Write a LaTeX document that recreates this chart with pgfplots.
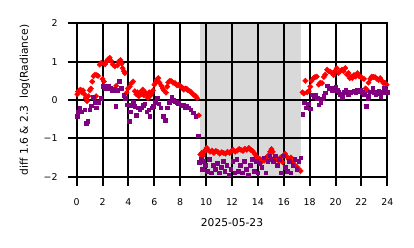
\documentclass[border=0pt]{standalone}
\usepackage{pgfplots}
\pgfplotsset{compat=1.18}
\usepackage{fontspec}
\setmainfont{DejaVu Sans}
\definecolor{mpurple}{RGB}{128,0,128}

\pgfplotstableread{
x y
0.05 0.15
0.1 0.22
0.2 0.25
0.3 0.27
0.4 0.2
0.5 0.25
0.6 0.15
0.7 0.05
0.8 -0.03
0.9 0.1
1.0 0.25
1.1 0.3
1.2 0.48
1.3 0.62
1.4 0.66
1.5 0.1
1.55 0.65
1.65 0.63
1.78 0.92
1.9 0.97
2.0 0.55
2.1 0.48
2.2 0.93
2.3 1.0
2.42 1.06
2.55 1.1
2.65 1.02
2.8 0.92
2.95 0.88
3.05 0.37
3.15 0.9
3.25 1.0
3.38 1.04
3.48 0.95
3.55 0.83
3.65 0.75
3.72 0.7
3.85 0.19
3.95 0.3
4.1 0.35
4.23 0.44
4.36 0.48
4.49 0.23
4.6 0.15
4.7 0.2
4.8 0.1
4.9 0.2
5.0 0.15
5.1 0.27
5.2 0.12
5.3 0.2
5.4 0.15
5.5 0.05
5.6 0.2
5.7 0.12
5.8 0.18
5.9 0.25
6.0 0.4
6.1 0.45
6.17 0.52
6.3 0.57
6.4 0.45
6.55 0.37
6.65 0.3
6.75 0.25
6.9 0.19
7.0 0.35
7.07 0.46
7.2 0.5
7.33 0.49
7.45 0.45
7.6 0.44
7.75 0.38
7.9 0.4
8.0 0.35
8.1 0.34
8.2 0.3
8.28 0.27
8.4 0.3
8.5 0.29
8.6 0.25
8.75 0.23
8.85 0.2
9.0 0.14
9.1 0.12
9.2 0.1
9.3 0.05
9.44 -0.4
9.55 -1.42
9.65 -1.38
9.75 -1.45
9.85 -1.35
9.95 -1.3
10.05 -1.25
10.15 -1.3
10.3 -1.35
10.45 -1.32
10.6 -1.38
10.75 -1.33
10.9 -1.35
11.05 -1.4
11.2 -1.36
11.35 -1.38
11.5 -1.4
11.65 -1.35
11.8 -1.38
11.95 -1.33
12.1 -1.3
12.25 -1.35
12.4 -1.32
12.55 -1.28
12.7 -1.3
12.85 -1.33
13.0 -1.27
13.15 -1.3
13.3 -1.25
13.45 -1.3
13.6 -1.33
13.75 -1.4
13.9 -1.48
14.05 -1.52
14.2 -1.55
14.35 -1.6
14.5 -1.58
14.65 -1.5
14.8 -1.45
14.95 -1.35
15.05 -1.28
15.15 -1.35
15.3 -1.5
15.45 -1.55
15.6 -1.58
15.75 -1.5
15.9 -1.62
16.0 -1.45
16.1 -1.4
16.25 -1.48
16.4 -1.55
16.55 -1.5
16.7 -1.62
16.85 -1.7
17.0 -1.74
17.15 -1.8
17.3 -1.85
17.45 0.2
17.55 0.17
17.67 0.5
17.8 0.2
17.93 0.23
18.05 0.35
18.15 0.5
18.3 0.57
18.42 0.6
18.55 0.61
18.7 0.4
18.82 0.45
18.96 0.44
19.1 0.6
19.2 0.66
19.35 0.79
19.47 0.75
19.6 0.74
19.72 0.7
19.85 0.65
19.95 0.75
20.1 0.83
20.22 0.7
20.35 0.75
20.5 0.79
20.62 0.75
20.75 0.83
20.88 0.66
21.0 0.7
21.1 0.57
21.2 0.6
21.3 0.57
21.42 0.65
21.55 0.61
21.7 0.7
21.82 0.62
21.95 0.6
22.05 0.57
22.2 0.55
22.32 0.3
22.45 0.25
22.55 0.45
22.68 0.55
22.8 0.61
22.92 0.6
23.05 0.6
23.2 0.55
23.33 0.52
23.45 0.57
23.58 0.5
23.7 0.44
23.82 0.45
23.95 0.4
}\reddata

\pgfplotstableread{
x y
0.03 -0.42
0.1 -0.3
0.23 -0.2
0.4 -0.3
0.62 -0.25
0.75 -0.6
0.85 -0.55
1.0 -0.25
1.1 -0.15
1.26 0.08
1.4 -0.05
1.52 -0.2
1.7 -0.05
1.85 0.05
2.04 0.36
2.2 0.3
2.42 0.36
2.6 0.3
2.75 0.25
2.89 0.29
3.02 -0.16
3.15 0.25
3.28 0.49
3.46 0.31
3.64 0.12
3.75 0.05
3.85 -0.12
4.05 -0.55
4.15 -0.3
4.23 -0.14
4.35 -0.05
4.49 -0.16
4.62 -0.4
4.75 -0.2
4.88 -0.25
5.0 -0.2
5.13 -0.14
5.25 -0.1
5.4 -0.3
5.55 -0.25
5.65 -0.42
5.78 -0.2
5.9 -0.16
6.05 -0.05
6.2 0.06
6.35 -0.1
6.5 -0.2
6.68 -0.42
6.86 -0.52
7.0 -0.2
7.15 -0.05
7.33 0.08
7.45 0.0
7.6 -0.04
7.72 -0.05
7.85 -0.09
8.05 -0.15
8.23 -0.12
8.35 -0.2
8.5 -0.15
8.65 -0.2
8.8 -0.25
9.0 -0.33
9.2 -0.42
9.4 -0.93
9.47 -1.62
9.6 -1.55
9.7 -1.8
9.8 -1.6
9.95 -1.7
10.1 -1.85
10.25 -1.55
10.4 -1.9
10.55 -1.7
10.7 -1.8
10.85 -1.65
11.0 -1.9
11.15 -1.75
11.3 -1.6
11.45 -1.85
11.6 -1.7
11.75 -1.95
11.9 -1.8
12.05 -1.6
12.2 -1.9
12.35 -1.55
12.5 -1.85
12.65 -1.7
12.8 -1.9
12.95 -1.6
13.1 -1.8
13.25 -1.95
13.4 -1.7
13.55 -1.55
13.7 -1.85
13.85 -1.6
14.0 -1.9
14.15 -1.65
14.3 -1.75
14.45 -1.5
14.6 -1.9
14.75 -1.6
14.9 -1.45
15.05 -1.55
15.2 -1.6
15.35 -1.45
15.5 -1.7
15.65 -1.55
15.8 -1.9
15.95 -1.45
16.1 -1.75
16.25 -1.85
16.4 -1.6
16.55 -1.9
16.7 -1.7
16.85 -1.55
17.0 -1.8
17.15 -1.6
17.3 -1.5
17.45 -0.37
17.6 -0.07
17.75 -0.2
17.9 -0.1
18.06 -0.23
18.2 0.14
18.3 0.1
18.45 0.14
18.6 0.05
18.7 -0.12
18.85 -0.05
18.97 0.03
19.1 0.1
19.2 0.19
19.35 0.37
19.5 0.3
19.6 0.29
19.75 0.25
19.9 0.3
20.0 0.34
20.12 0.25
20.25 0.2
20.38 0.15
20.5 0.08
20.65 0.2
20.77 0.25
20.9 0.2
21.0 0.14
21.15 0.2
21.28 0.22
21.4 0.23
21.55 0.2
21.67 0.27
21.8 0.22
21.92 0.25
22.05 0.2
22.2 0.15
22.37 -0.16
22.47 0.05
22.57 0.1
22.7 0.22
22.87 0.31
23.0 0.2
23.1 0.14
23.22 0.18
23.35 0.23
23.5 0.1
23.62 0.2
23.74 0.31
23.87 0.25
23.97 0.2
}\purpledata

\begin{document}
\begin{tikzpicture}
\useasboundingbox (0,0) rectangle (414bp,248bp);
\begin{axis}[
  at={(76.7bp,71.3bp)}, anchor=south west,
  scale only axis, width=310.6bp, height=153.4bp,
  xmin=0, xmax=24, ymin=-2, ymax=2,
  xtick={0,2,4,6,8,10,12,14,16,18,20,22,24},
  xticklabels={0,2,4,6,8,10,12,14,16,18,20,22,24},
  ytick={-2,-1,0,1,2},
  yticklabels={−2,−1,0,1,2},
  xtick pos=left, ytick pos=left,
  grid=major,
  major grid style={black, line width=2bp},
  axis line style={black, line width=2bp},
  tick align=outside,
  major tick length=9bp,
  every tick/.style={black, line width=2bp},
  xticklabel style={font=\fontsize{9.4bp}{11bp}\selectfont, anchor=base, inner sep=0pt, yshift=-19.3bp},
  yticklabel style={font=\fontsize{9.4bp}{11bp}\selectfont, anchor=east, inner sep=0pt, xshift=-10bp},
  xlabel={2025-05-23},
  ylabel={diff 1.6 \& 2.3\ \ log(Radiance)},
  xlabel style={font=\fontsize{10.7bp}{12bp}\selectfont, at={(axis description cs:0.5,-0.302)}, anchor=center},
  ylabel style={font=\fontsize{10.7bp}{12bp}\selectfont, at={(axis description cs:-0.1665,0.5)}, anchor=center},
  axis on top,
  clip=true,
]
\addplot[red, only marks, mark=square*, mark size=1.9bp, mark options={rotate=45, fill=red, draw=none}] table[x=x,y=y] {\reddata};
\addplot[mpurple, only marks, mark=square*, mark size=1.8bp, mark options={fill=mpurple, draw=none}] table[x=x,y=y] {\purpledata};
\addplot[draw=none, fill=gray, fill opacity=0.3] coordinates {(9.53,-2.5) (17.36,-2.5) (17.36,2.5) (9.53,2.5)} -- cycle;
\end{axis}
\end{tikzpicture}
\end{document}
